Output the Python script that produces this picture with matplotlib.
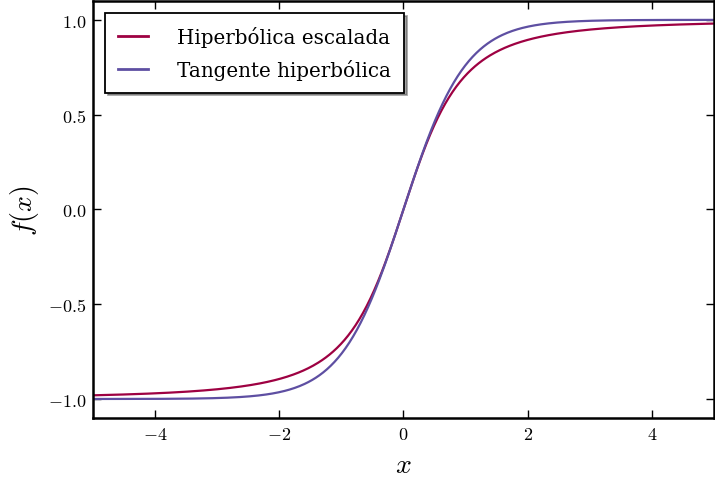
import numpy as np
import matplotlib
matplotlib.use("Agg")
import matplotlib.pyplot as plt

plt.rcParams["mathtext.fontset"] = "cm"
plt.rcParams["font.family"] = "DejaVu Serif"

# domain and the two activation curves
x_min, x_max = -5.0, 5.0
n_points = 500
labels = ["Hiperbólica escalada", "Tangente hiperbólica"]
colors = ["#9e0142", "#5e4fa2"]
x_ticks = [-4, -2, 0, 2, 4]
y_ticks = [-1.0, -0.5, 0.0, 0.5, 1.0]

x = np.linspace(x_min, x_max, n_points)
curves = [x / np.sqrt(1 + x**2), np.tanh(x)]

fig = plt.figure(figsize=(7.15, 4.81), dpi=100)
ax = fig.add_axes([0.130, 0.129, 0.8686, 0.867])

for y, lab, c in zip(curves, labels, colors):
    ax.plot(x, y, color=c, linewidth=1.6, label=lab)

ax.set_xlim(x_min, x_max)
ax.set_ylim(-1.1, 1.1)
ax.set_xticks(x_ticks)
ax.set_yticks(y_ticks)
ax.set_xticklabels([r"$%d$" % t if t >= 0 else r"$-%d$" % -t for t in x_ticks], fontsize=13)
ax.set_yticklabels([r"$%.1f$" % t if t >= 0 else r"$-%.1f$" % -t for t in y_ticks], fontsize=13)
ax.tick_params(direction="in", top=True, right=True, length=6, width=1, pad=5)
for s in ax.spines.values():
    s.set_linewidth(1.8)

ax.set_xlabel(r"$x$", fontsize=20, labelpad=6)
ax.set_ylabel(r"$f(x)$", fontsize=20, labelpad=5)

leg = ax.legend(loc="upper left", fontsize=14.3, shadow=True, fancybox=False,
                framealpha=1, edgecolor="black", handlelength=1.5,
                handletextpad=1.5, labelspacing=0.6, borderpad=0.65,
                borderaxespad=0.6)
leg.get_frame().set_linewidth(1.3)
for h in leg.get_lines():
    h.set_linewidth(2.0)

fig.savefig("out.png", dpi=100)
